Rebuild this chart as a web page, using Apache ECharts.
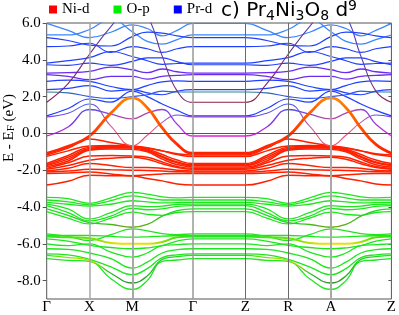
<!DOCTYPE html>
<html><head><meta charset="utf-8">
<script src="https://cdn.jsdelivr.net/npm/echarts@6/dist/echarts.min.js"></script>
<style>html,body{margin:0;padding:0;background:#fff}#c{width:399px;height:315px}</style>
</head><body><div id="c"></div>
<script>
// k-path sample positions (Γ-X-M-Γ and Z-R-A-Z sections)
const kPath1 = [0, 0.5, 1, 1.5, 2, 2.35, 2.7, 3.05, 3.414];
const kPath2 = [4.644, 5.144, 5.644, 6.144, 6.644, 6.994, 7.344, 7.694, 8.058];
const kTickPos = [0, 1, 2, 3.414, 4.644, 5.644, 6.644, 8.058];
const kTickLabels = ['Γ', 'X', 'M', 'Γ', 'Z', 'R', 'A', 'Z'];
const yTickValues = [-8, -6, -4, -2, 0, 2, 4, 6];
const legendNames = ['Ni-d', 'O-p', 'Pr-d'];

// Ni-d bands (energies at kPath samples)
const niBands = [
  [-1.17, -0.8, -0.3, -0.5, -0.68, -0.8, -0.95, -1.1, -1.17],
  [-1.25, -0.95, -0.68, -0.66, -0.68, -0.78, -0.95, -1.15, -1.25],
  [-1.64, -1.2, -0.75, -0.7, -0.72, -0.85, -1.15, -1.45, -1.64],
  [-1.71, -1.3, -0.82, -0.75, -0.76, -0.9, -1.25, -1.55, -1.71],
  [-1.75, -1.4, -0.88, -0.8, -0.8, -0.95, -1.3, -1.6, -1.75],
  [-1.82, -1.5, -0.92, -0.85, -0.86, -1.0, -1.4, -1.7, -1.82],
  [-1.9, -1.6, -1.23, -1.2, -1.23, -1.3, -1.55, -1.8, -1.9],
  [-1.95, -1.75, -1.46, -1.35, -1.3, -1.4, -1.65, -1.85, -1.95],
  [-2.04, -1.9, -1.64, -1.75, -1.86, -1.85, -1.9, -2.0, -2.04],
  [-2.1, -2.05, -1.95, -1.98, -2.0, -2.02, -2.05, -2.08, -2.1],
  [-2.18, -2.15, -2.1, -2.2, -2.3, -2.25, -2.2, -2.18, -2.18],
  [-2.81, -2.6, -2.27, -2.3, -2.31, -2.45, -2.58, -2.75, -2.81]
];
// the strongly dispersive Ni-d band (orange near M)
const niWideBand = [-1.08, -0.7, -0.15, 1.1, 1.93, 1.4, 0.3, -0.6, -1.08];

// O-p bands
const oBands = [
  [-3.48, -3.55, -3.8, -3.5, -3.21, -3.3, -3.45, -3.5, -3.48],
  [-3.62, -3.72, -3.88, -3.65, -3.39, -3.5, -3.62, -3.62, -3.62],
  [-3.75, -3.85, -3.95, -3.85, -3.66, -3.72, -3.78, -3.76, -3.75],
  [-3.84, -4.1, -4.65, -4.3, -3.93, -3.98, -3.95, -3.86, -3.84],
  [-3.93, -4.3, -4.75, -4.5, -4.07, -4.15, -4.1, -3.97, -3.93],
  [-4.25, -4.6, -4.92, -4.6, -4.28, -4.4, -4.45, -4.3, -4.25],
  [-5.46, -5.6, -5.82, -5.5, -5.19, -5.3, -5.45, -5.5, -5.46],
  [-5.55, -5.55, -5.55, -5.6, -5.64, -5.62, -5.58, -5.56, -5.55],
  [-5.73, -5.85, -6.09, -6.2, -6.27, -6.22, -6.1, -5.85, -5.73],
  [-6.0, -6.1, -6.0, -6.45, -6.72, -6.5, -6.1, -6.05, -6.0],
  [-6.27, -6.3, -6.5, -6.8, -7.32, -7.0, -6.5, -6.32, -6.27],
  [-6.55, -6.6, -6.85, -7.25, -7.68, -7.35, -6.75, -6.6, -6.55],
  [-6.81, -6.9, -6.95, -7.9, -8.48, -8.0, -6.95, -6.88, -6.81]
];
const oDarkBands = [
  [-4.1, -4.45, -4.85, -4.95, -5.1, -4.95, -4.5, -4.2, -4.1],
  [-6.63, -6.75, -6.9, -7.6, -8.13, -7.75, -6.85, -6.7, -6.63]
];
const oYellowBand = [-5.6, -5.65, -5.7, -5.95, -6.0, -6.0, -5.9, -5.65, -5.6];

// Pr-d bands
const prBands = [
  [5.98, 5.6, 5.2, 5.5, 5.9, 5.7, 5.3, 5.6, 5.98],
  [5.35, 5.35, 5.65, 6.2, 5.53, 5.0, 4.85, 5.1, 5.35],
  [5.21, 5.05, 4.8, 4.75, 5.26, 5.5, 5.45, 5.3, 5.21],
  [4.72, 4.75, 4.9, 4.4, 4.72, 4.6, 4.4, 4.6, 4.72],
  [3.82, 3.95, 4.12, 4.45, 4.18, 3.95, 3.75, 3.8, 3.82],
  [3.73, 3.7, 3.82, 3.7, 3.91, 4.1, 4.1, 3.9, 3.73],
  [2.83, 2.9, 2.83, 2.55, 2.38, 2.6, 2.8, 2.85, 2.83],
  [2.38, 2.45, 2.6, 2.3, 2.38, 2.2, 2.1, 2.3, 2.38],
  [0.95, 1.35, 1.87, 1.7, 2.3, 2.0, 1.6, 1.25, 0.95]
];
const prPurpleBands = [
  [3.28, 3.3, 3.37, 3.6, 3.46, 3.3, 3.5, 3.35, 3.28],
  [3.19, 3.1, 2.92, 3.1, 3.1, 2.95, 3.1, 3.15, 3.19]
];
const prTealBand = [2.25, 2.2, 2.0, 1.9, 2.0, 2.1, 2.3, 2.25, 2.25];
const prSteepBand = [1.69, 2.7, 4.3, 5.8, 7.0, 6.4, 4.2, 2.3, 1.69];
const mixVBand = [0.9, 1.1, 1.6, 0.4, -0.68, -0.1, 0.6, 1.0, 0.9];
const mixMagentaBand = [-0.14, 0.35, 1.3, 1.05, 0.79, 1.1, 1.3, 0.5, -0.14];

const KMAX = kPath2[kPath2.length - 1];
function grad(stops) {
  return new echarts.graphic.LinearGradient(0, 0, 1, 0,
    stops.map(s => ({offset: s[0] / KMAX, color: s[1]})));
}
function sym(list) { // same colour pattern on both sections
  const out = [];
  list.forEach(s => out.push([s[0], s[1]]));
  list.forEach(s => out.push([s[0] + 4.644, s[1]]));
  return out;
}
function band(vals, color, width, z) {
  const data = kPath1.map((k, i) => [k, vals[i]]).concat(kPath2.map((k, i) => [k, vals[i]]));
  return {type: 'line', data: data, smooth: 0.45, symbol: 'none', silent: true,
    lineStyle: {color: color, width: width}, z: z || 3, animation: false};
}

const series = [];
// reference lines
series.push({type: 'line', data: [], silent: true, z: 1, animation: false,
  markLine: {symbol: 'none', silent: true, label: {show: false}, animation: false,
    data: [
      {xAxis: kTickPos[1], lineStyle: {color: '#a8a8a8', width: 1.5, type: 'solid'}},
      {xAxis: kTickPos[2], lineStyle: {color: '#a8a8a8', width: 2, type: 'solid'}},
      {xAxis: kTickPos[3], lineStyle: {color: '#999', width: 1.5, type: 'solid'}},
      {xAxis: kTickPos[4], lineStyle: {color: '#6a6a6a', width: 1, type: 'solid'}},
      {xAxis: kTickPos[5], lineStyle: {color: '#6a6a6a', width: 1, type: 'solid'}},
      {xAxis: kTickPos[6], lineStyle: {color: '#a8a8a8', width: 2, type: 'solid'}},
      {yAxis: 0, lineStyle: {color: '#555', width: 1, type: 'solid'}}
    ]}});

oBands.forEach(b => series.push(band(b, '#1ee61e', 1.3)));
series.push(band(oDarkBands[0], grad(sym([[0, '#20e020'], [1.2, '#20d020'], [2, '#7a9a10'], [2.8, '#20d020'], [3.414, '#20e020']])), 1.3));
series.push(band(oDarkBands[1], grad(sym([[0, '#20e020'], [0.6, '#a0e000'], [1.1, '#c8d800'], [1.5, '#20c020'], [2, '#2a8a2a'], [2.6, '#20d020'], [3.414, '#20e020']])), 1.3));
series.push(band(oYellowBand, grad(sym([[0, '#20e820'], [1.2, '#80e000'], [1.7, '#e8e000'], [2.4, '#e8e000'], [2.9, '#60e000'], [3.414, '#20e820']])), 2));

niBands.forEach(b => series.push(band(b, '#ff2000', 1.5)));
series.push(band(niWideBand, grad(sym([[0, '#ff2000'], [1, '#ff3000'], [1.6, '#ff6a00'], [2, '#ff8c00'], [2.5, '#ff6000'], [3.1, '#ff2800'], [3.414, '#ff2000']])), 2.8, 4));

prBands.forEach((b, i) => series.push(band(b, i < 2 ? '#3a86ff' : '#2040ff', 1.2)));
prPurpleBands.forEach(b => series.push(band(b, '#6a2cf0', 1.3)));
series.push(band(prTealBand, grad(sym([[0, '#2a8a7a'], [0.6, '#3060c0'], [1.2, '#2a50ff'], [2.4, '#2a50ff'], [3.0, '#2a70b0'], [3.414, '#2a8a7a']])), 1.2));
series.push(band(prSteepBand, grad(sym([[0, '#8a2048'], [1, '#7a3070'], [1.6, '#5040c0'], [2.4, '#5040c0'], [3.0, '#7a3070'], [3.414, '#8a2048']])), 1.1));
series.push(band(mixVBand, grad(sym([[0, '#8a40e0'], [1, '#4060f0'], [1.6, '#e05a90'], [2, '#f04a60'], [2.5, '#e05a90'], [3, '#6a50e0'], [3.414, '#8a40e0']])), 1.1));
series.push(band(mixMagentaBand, grad(sym([[0, '#e020d8'], [0.5, '#9a30e0'], [1, '#4a4af0'], [2, '#c04aa0'], [2.9, '#8a40e0'], [3.414, '#e020d8']])), 1.3));

// legend carriers
const legendColors = ['#ff0000', '#00ee00', '#0000ff'];
legendNames.forEach((n, i) => series.push({name: n, type: 'line', data: [], symbol: 'rect',
  itemStyle: {color: legendColors[i]}, lineStyle: {color: legendColors[i]}}));

const serif = 'Liberation Serif';
const sans = 'DejaVu Sans';
const chart = echarts.init(document.getElementById('c'), null, {renderer: 'canvas'});
chart.setOption({
  animation: false,
  backgroundColor: '#fff',
  grid: {left: 46.7, right: 5, top: 23, bottom: 14.5, show: true, borderColor: '#555', borderWidth: 1, backgroundColor: 'transparent'},
  legend: {data: legendNames, left: 44, top: -3, icon: 'rect', itemWidth: 8, itemHeight: 8, itemGap: 24,
    textStyle: {fontFamily: serif, fontSize: 15, color: '#000'}},
  title: {left: 221, top: -1, padding: 0,
    text: '{a|c) Pr}{s|4}{a|Ni}{s|3}{a|O}{s|8}{a| d}{p|9}',
    textStyle: {fontWeight: 'normal', rich: {
      a: {fontFamily: sans, fontWeight: 'normal', fontSize: 20, color: '#000', lineHeight: 24},
      s: {fontFamily: sans, fontWeight: 'normal', fontSize: 14, color: '#000', lineHeight: 14, verticalAlign: 'bottom'},
      p: {fontFamily: sans, fontWeight: 'normal', fontSize: 14, color: '#000', lineHeight: 14, verticalAlign: 'top'}
    }}},
  graphic: [{type: 'text', x: 9, y: 128, rotation: Math.PI / 2,
    style: {text: 'E - E{s|F} (eV)', fontFamily: serif, fontSize: 15, fill: '#000', align: 'center', verticalAlign: 'middle',
      rich: {s: {fontFamily: serif, fontSize: 11, verticalAlign: 'bottom', lineHeight: 11}}}}],
  xAxis: {type: 'value', min: 0, max: KMAX,
    axisLine: {show: false}, splitLine: {show: false},
    axisTick: {show: false, customValues: kTickPos},
    axisLabel: {customValues: kTickPos, margin: 1, fontFamily: serif, fontSize: 15, color: '#000',
      formatter: v => { let best = 0; kTickPos.forEach((p, i) => { if (Math.abs(p - v) < Math.abs(kTickPos[best] - v)) best = i; }); return kTickLabels[best]; }}},
  yAxis: [
    {type: 'value', min: -9, max: 6, position: 'left',
      axisLine: {show: false}, splitLine: {show: false},
      axisTick: {show: true, customValues: yTickValues, length: 4, lineStyle: {color: '#555'}},
      axisLabel: {customValues: yTickValues, margin: 6, fontFamily: serif, fontSize: 15, color: '#000', formatter: v => v.toFixed(1)}},
    {type: 'value', min: -9, max: 6, position: 'right',
      axisLine: {show: false}, splitLine: {show: false},
      axisTick: {show: true, inside: true, customValues: yTickValues, length: 3, lineStyle: {color: '#555'}},
      axisLabel: {show: false}}
  ],
  series: series
});
</script></body></html>
